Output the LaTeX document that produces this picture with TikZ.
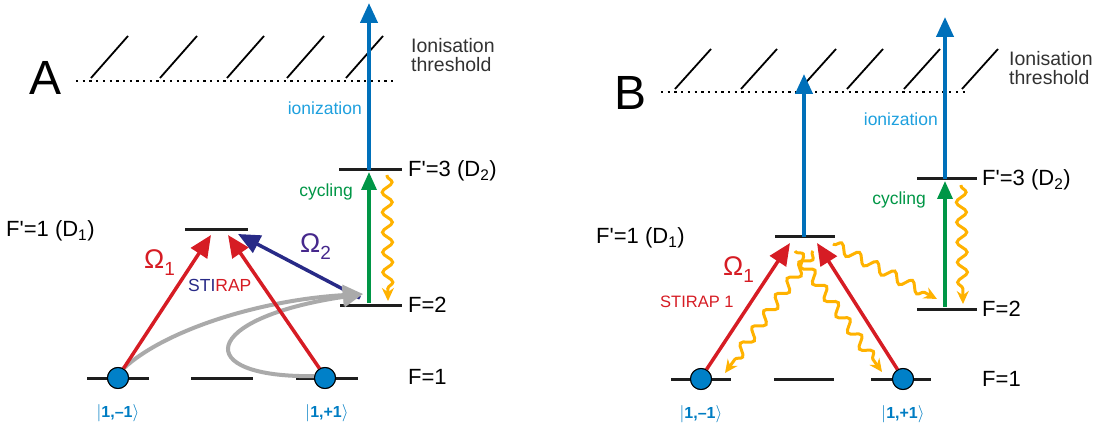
\documentclass[tikz,border=0pt]{standalone}
\usepackage{fontspec}
\setmainfont{Liberation Sans}[Ligatures=Common]
\usetikzlibrary{arrows.meta,decorations.pathmorphing}
\definecolor{levelc}{RGB}{30,30,30}
\definecolor{ionblue}{RGB}{0,112,186}
\definecolor{ionlabel}{RGB}{30,160,222}
\definecolor{cycgreen}{RGB}{0,150,70}
\definecolor{pumpred}{RGB}{214,28,36}
\definecolor{navyc}{RGB}{40,42,135}
\definecolor{omtwo}{RGB}{70,40,140}
\definecolor{grayc}{RGB}{170,170,170}
\definecolor{wavyc}{RGB}{255,178,0}
\definecolor{atomblue}{RGB}{0,128,200}
\definecolor{ketc}{RGB}{0,125,195}
\definecolor{thrtext}{RGB}{50,50,50}
\begin{document}
\begin{tikzpicture}[x=1pt,y=-1pt,
  level/.style={draw=levelc,line width=3pt},
  hatch/.style={draw=black,line width=1.8pt},
  thr/.style={draw=black,line width=2.5pt,dash pattern=on 2.3pt off 4.4pt},
  ion/.style={draw=ionblue,line width=4pt,-{Triangle[length=20pt,width=17pt]}},
  cyc/.style={draw=cycgreen,line width=3.5pt,-{Triangle[length=18pt,width=15pt]}},
  pump/.style={draw=pumpred,line width=3.5pt,-{Triangle[length=22pt,width=19pt]}},
  stokes/.style={draw=navyc,line width=3.5pt,-{Triangle[length=22pt,width=19pt]}},
  grayarr/.style={draw=grayc,line width=4pt,-{Triangle[length=20pt,width=20pt]}},
  wavy/.style={draw=wavyc,line width=3pt,decorate,
     decoration={snake,amplitude=5pt,segment length=20pt,pre length=1pt,post length=10pt},
     -{Stealth[length=13pt,width=12pt]}},
  atom/.style={circle,draw=black,line width=1pt,fill=atomblue,minimum size=21pt,inner sep=0pt},
  lvl/.style={anchor=west,inner sep=0pt,font=\fontsize{22}{24}\selectfont,text=black},
  thrl/.style={anchor=west,inner sep=0pt,align=left,font=\fontsize{19.5}{22}\selectfont,text=thrtext},
  big/.style={inner sep=0pt,font=\fontsize{48}{50}\selectfont},
  clbl/.style={anchor=east,inner sep=0pt,font=\fontsize{17.5}{20}\selectfont},
  omega/.style={anchor=west,inner sep=0pt,font=\fontsize{27}{28}\selectfont},
  ket/.style={inner sep=0pt,font=\fontsize{16}{18}\selectfont\bfseries,text=ketc}
]
\useasboundingbox (0,0) rectangle (1105,430);

% ================= Panel A =================
\node[big] (labA) at (46,78) {A};
\coordinate (thrAl) at (76,81);
\coordinate (thrAr) at (397,81);
\draw[thr] (thrAl) -- (thrAr);
\foreach \x in {91,160,227,287,346} \draw[hatch] (\x,78) -- ++(37,-42);
\node[thrl] (ionthrA) at (411,55) {Ionisation\\[-3pt]threshold};

% levels A
\coordinate (FpthreeAl) at (339,170); \coordinate (FpthreeAr) at (402,170);
\coordinate (FtwoAl) at (340,305); \coordinate (FtwoAr) at (402,305);
\coordinate (FponeAl) at (185,230); \coordinate (FponeAr) at (248,230);
\draw[level] (FpthreeAl) -- (FpthreeAr);
\draw[level] (FtwoAl) -- (FtwoAr);
\draw[level] (FponeAl) -- (FponeAr);
\draw[level] (87,378) -- (149,378);
\draw[level] (191,378) -- (253,378);
\draw[level] (296,378) -- (358,378);
\node[lvl] (tFp3A) at (408,171) {F\textquotesingle=3 (D\textsubscript{2})};
\node[lvl] (tF2A) at (408,305) {F=2};
\node[lvl] (tF1A) at (408,377) {F=1};
\node[lvl] (tFp1A) at (6,231) {F\textquotesingle=1 (D\textsubscript{1})};

% arrows A
\coordinate (ionAbot) at (369,170); \coordinate (ionAtop) at (369,3);
\draw[ion] (ionAbot) -- (ionAtop);
\node[clbl,text=ionlabel] (ionizA) at (362,108) {ionization};
\coordinate (cycAbot) at (369,303); \coordinate (cycAtop) at (369,172);
\draw[cyc] (cycAbot) -- (cycAtop);
\node[clbl,text=cycgreen] (cycA) at (353,192) {cycling};
\coordinate (wavAs) at (387,175); \coordinate (wavAe) at (388,301);
\draw[wavy] (wavAs) -- (wavAe);

\node[atom] (aLA) at (118,378) {};
\node[atom] (aRA) at (325,378) {};
\coordinate (tipLA) at (211,235); \coordinate (tipRA) at (228,235);
\coordinate (stA) at (360,298); \coordinate (tipSA) at (238,234);
\coordinate (grayTip) at (363,294);
\draw[stokes] (stA) -- (tipSA);
\draw[grayarr] (aLA.60) .. controls (165,330) and (260,300) .. (grayTip);
\draw[grayarr] (aRA.170) .. controls (190,378) and (200,318) .. (grayTip);
\draw[pump] (aLA.60) -- (tipLA);
\draw[pump] (aRA.120) -- (tipRA);
\node[atom] at (aLA) {};
\node[atom] at (aRA) {};
\node[omega,text=pumpred] (om1A) at (144,263) {Ω\raisebox{-7pt}{\fontsize{19}{20}\selectfont 1}};
\node[omega,text=omtwo] (om2A) at (300,247) {Ω\raisebox{-7pt}{\fontsize{19}{20}\selectfont 2}};
\node[anchor=west,inner sep=0pt,font=\fontsize{17.5}{20}\selectfont] (stirA) at (188,285) {\textcolor{navyc}{STI}\textcolor{pumpred}{RAP}};
\node[ket] (ketLA) at (118,413) {$|$1,–1$\rangle$};
\node[ket] (ketRA) at (327,413) {$|$1,+1$\rangle$};

% ================= Panel B =================
\node[big] (labB) at (630,93) {B};
\coordinate (thrBl) at (661,92);
\coordinate (thrBr) at (968,92);
\draw[thr] (thrBl) -- (thrBr);
\foreach \x in {675,741,800,847,904,962} \draw[hatch] (\x,89) -- ++(36,-40);
\node[thrl] (ionthrB) at (1009,68) {Ionisation\\[-3pt]threshold};

\coordinate (FpthreeBl) at (917,179); \coordinate (FpthreeBr) at (977,179);
\coordinate (FtwoBl) at (917,309); \coordinate (FtwoBr) at (977,309);
\coordinate (FponeBl) at (775,237); \coordinate (FponeBr) at (835,237);
\draw[level] (FpthreeBl) -- (FpthreeBr);
\draw[level] (FtwoBl) -- (FtwoBr);
\draw[level] (FponeBl) -- (FponeBr);
\draw[level] (671,379) -- (731,379);
\draw[level] (774,379) -- (834,379);
\draw[level] (871,379) -- (931,379);
\node[lvl] (tFp3B) at (982,180) {F\textquotesingle=3 (D\textsubscript{2})};
\node[lvl] (tF2B) at (982,309) {F=2};
\node[lvl] (tF1B) at (982,379) {F=1};
\node[lvl] (tFp1B) at (596,238) {F\textquotesingle=1 (D\textsubscript{1})};

\coordinate (ionBLbot) at (804,237); \coordinate (ionBLtop) at (804,74);
\draw[ion] (ionBLbot) -- (ionBLtop);
\coordinate (ionBRbot) at (945,179); \coordinate (ionBRtop) at (945,17);
\draw[ion] (ionBRbot) -- (ionBRtop);
\node[clbl,text=ionlabel] (ionizB) at (938,119) {ionization};
\coordinate (cycBbot) at (945,307); \coordinate (cycBtop) at (945,181);
\draw[cyc] (cycBbot) -- (cycBtop);
\node[clbl,text=cycgreen] (cycB) at (926,200) {cycling};
\coordinate (wavBs) at (961,185); \coordinate (wavBe) at (963,304);
\draw[wavy] (wavBs) -- (wavBe);

\node[atom] (aLB) at (701,379) {};
\node[atom] (aRB) at (903,379) {};
\coordinate (tipLB) at (790,243); \coordinate (tipRB) at (817,243);
\coordinate (wLs) at (813,251); \coordinate (wLe) at (725,373);
\coordinate (wRs) at (795,251); \coordinate (wRe) at (882,372);
\coordinate (wTs) at (833,244); \coordinate (wTe) at (937,299);
\draw[wavy] (wLs) -- (wLe);
\draw[wavy] (wRs) -- (wRe);
\draw[wavy] (wTs) -- (wTe);
\draw[pump] (aLB.60) -- (tipLB);
\draw[pump] (aRB.120) -- (tipRB);
\node[atom] at (aLB) {};
\node[atom] at (aRB) {};
\node[omega,text=pumpred] (om1B) at (723,270) {Ω\raisebox{-7pt}{\fontsize{19}{20}\selectfont 1}};
\node[anchor=west,inner sep=0pt,font=\fontsize{16.5}{19}\selectfont,text=pumpred] (stirB) at (660,302) {STIRAP 1};
\node[ket] (ketLB) at (701,414) {$|$1,–1$\rangle$};
\node[ket] (ketRB) at (903,414) {$|$1,+1$\rangle$};
\end{tikzpicture}
\end{document}
